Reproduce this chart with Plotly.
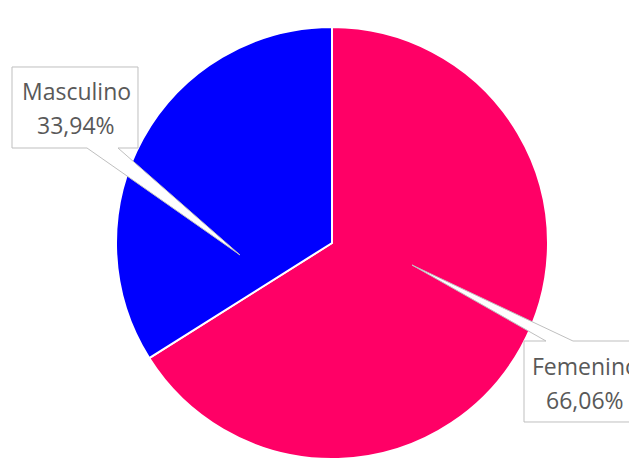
import plotly.graph_objects as go

# Data
categories = ["Femenino", "Masculino"]
values = [66.06, 33.94]
labels_text = ["66,06%", "33,94%"]
colors = ["#FF0066", "#0000FF"]

W, H = 637, 465
OFF = 8  # page body margin offset

def px(x):
    return (x - OFF) / W

def py(y):
    return 1 - (y - OFF) / H

# Pie geometry (reference pixels)
cx, cy, r = 332, 243, 216

fig = go.Figure()
fig.add_trace(go.Pie(
    labels=categories,
    values=values,
    sort=False,
    direction="clockwise",
    rotation=0,
    marker=dict(colors=colors, line=dict(color="white", width=2)),
    textinfo="none",
    hoverinfo="none",
    showlegend=False,
    domain=dict(x=[px(cx - r), px(cx + r)], y=[py(cy + r), py(cy - r)]),
))

def path(points):
    return "M " + " L ".join(f"{px(x):.5f},{py(y):.5f}" for x, y in points) + " Z"

# Callout shapes (box + pointer)
callouts = [
    [(12, 67), (138, 67), (138, 148), (118, 148), (240, 255), (87, 148), (12, 148)],
    [(524, 341), (546, 341), (412, 265), (573, 341), (660, 341), (660, 422), (524, 422)],
]
shapes = [dict(type="path", xref="paper", yref="paper", path=path(c),
               fillcolor="white", line=dict(color="#BFBFBF", width=1), layer="above")
          for c in callouts]

label_pos = {"Masculino": (76, 91, 125), "Femenino": (585, 366, 400)}
font = dict(family="Open Sans, DejaVu Sans, sans-serif", size=23, color="#595959")
annotations = []
for cat, txt in zip(categories, labels_text):
    x, y1, y2 = label_pos[cat]
    for t, y in ((cat, y1), (txt, y2)):
        annotations.append(dict(
            x=px(x), y=py(y), xref="paper", yref="paper",
            text=t, showarrow=False, font=font,
            xanchor="center", yanchor="middle", align="center",
        ))

fig.update_layout(
    width=W, height=H,
    margin=dict(l=0, r=0, t=0, b=0),
    paper_bgcolor="white", plot_bgcolor="white",
    shapes=shapes, annotations=annotations,
)

fig.write_html("out.html")
